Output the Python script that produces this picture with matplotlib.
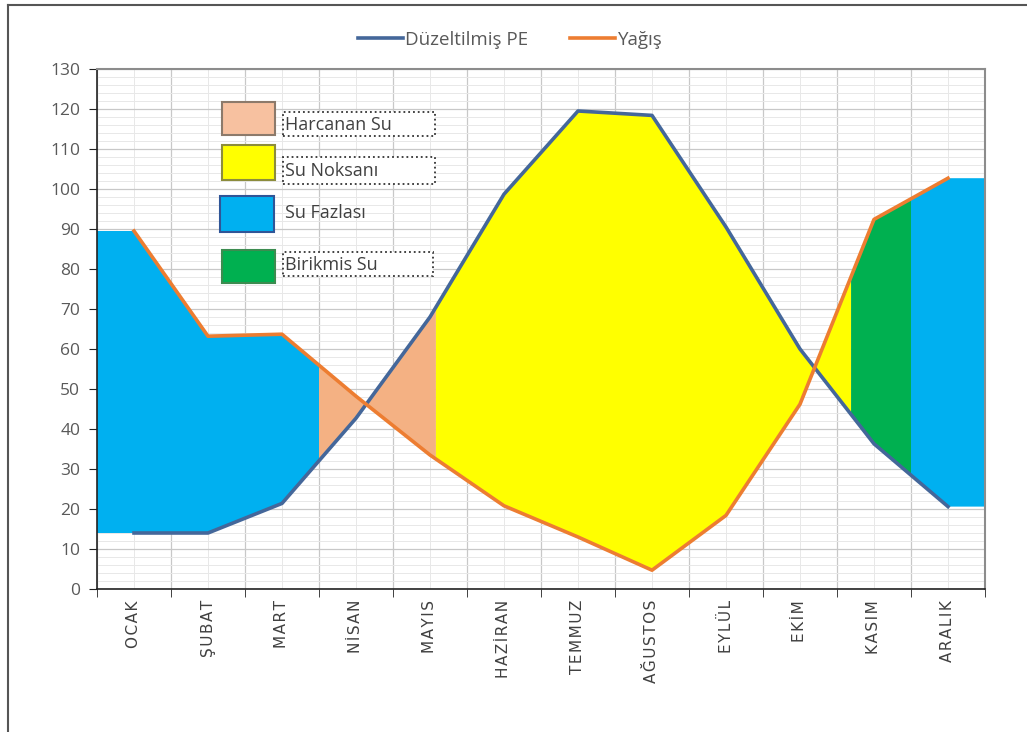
import numpy as np
import matplotlib
matplotlib.use('Agg')
from matplotlib import pyplot as plt
from matplotlib.patches import Rectangle
from matplotlib.lines import Line2D

plt.rcParams['font.family'] = ['Open Sans', 'DejaVu Sans']

months = ['OCAK', 'ŞUBAT', 'MART', 'NİSAN', 'MAYIS', 'HAZİRAN', 'TEMMUZ',
          'AĞUSTOS', 'EYLÜL', 'EKİM', 'KASIM', 'ARALIK']
pe = np.array([14.0, 14.0, 21.4, 42.7, 68.0, 98.7, 119.5, 118.4, 90.5, 60.0, 36.3, 20.6])
yagis = np.array([89.5, 63.2, 63.7, 48.2, 33.5, 20.8, 13.0, 4.7, 18.4, 46.2, 92.4, 102.7])

# shaded periods (start, end) in category units, with colour
periods = [(-0.5, 2.5, '#00B0F0'),
           (2.5, 4.08, '#F4B183'),
           (4.08, 9.69, '#FFFF00'),
           (9.69, 10.5, '#00B050'),
           (10.5, 11.5, '#00B0F0')]

legend_items = ['Harcanan Su', 'Su Noksanı', 'Su Fazlası', 'Birikmis Su']
legend_colors = ['#F7C1A0', '#FFFF00', '#00B0F0', '#00B050']
legend_edges = ['#8C7A6B', '#8C8C3C', '#2F5597', '#3C8C50']

W, H = 1027, 732
fig = plt.figure(figsize=(W / 100, H / 100), dpi=100)


def fx(x):
    return x / W


def fy(y):
    return 1 - y / H


ax = fig.add_axes([fx(97), fy(589), fx(985) - fx(97), fy(69) - fy(589)])
x = np.arange(len(months))


def band(x0, x1):
    inner = x[(x > x0) & (x < x1)]
    xs = np.concatenate([[x0], inner, [x1]])
    top = np.interp(xs, x, yagis)
    bot = np.interp(xs, x, pe)
    return np.concatenate([xs, xs[::-1]]), np.concatenate([top, bot[::-1]])


for x0, x1, col in periods:
    px, py = band(x0, x1)
    ax.fill(px, py, color=col, lw=0, zorder=2)

ax.plot(x, pe, color='#44679A', lw=2.6, zorder=3, solid_joinstyle='round')
ax.plot(x, yagis, color='#ED7D31', lw=2.6, zorder=3, solid_joinstyle='round')

ax.set_xlim(-0.5, 11.5)
ax.set_ylim(0, 130)
ax.set_yticks(np.arange(0, 131, 10))
ax.set_yticks(np.arange(0, 131, 2), minor=True)
ax.set_xticks(x)
ax.set_xticks(np.arange(-0.5, 12, 1), minor=True)
spaced = ['\u200a'.join(m) for m in months]
ax.set_xticklabels(spaced, rotation=90, fontsize=11, color='#404040', va='top',
                   family=['DejaVu Sans'])
ax.tick_params(axis='x', which='major', length=0, pad=8)
ax.tick_params(axis='x', which='minor', length=6, direction='out', color='#222222')
ax.tick_params(axis='y', which='major', length=6, direction='out', color='#222222',
               labelsize=12.5, labelcolor='#595959', pad=6)
ax.tick_params(axis='y', which='minor', length=0)

ax.grid(True, which='major', axis='y', color='#C8C8C8', lw=0.9, zorder=0)
ax.grid(True, which='minor', axis='y', color='#E8E8E8', lw=0.7, zorder=0)
ax.grid(True, which='minor', axis='x', color='#C8C8C8', lw=0.9, zorder=0)
ax.grid(True, which='major', axis='x', color='#E8E8E8', lw=0.7, zorder=0)
ax.set_axisbelow(True)

for s in ['top', 'right']:
    ax.spines[s].set_color('#8C8C8C')
    ax.spines[s].set_linewidth(1.5)
for s in ['left', 'bottom']:
    ax.spines[s].set_color('#222222')
    ax.spines[s].set_linewidth(1.2)

# top legend
handles = [Line2D([], [], color='#44679A', lw=2.6), Line2D([], [], color='#ED7D31', lw=2.6)]
fig.legend(handles, ['Düzeltilmiş PE', 'Yağış'], loc='center', bbox_to_anchor=(fx(510), fy(40)),
           ncol=2, frameon=False, fontsize=13.5, handlelength=2.4, handletextpad=0.15,
           columnspacing=2.2, labelcolor='#595959')

# drawn key inside the plot
boxes = [(222, 102, 53, 33), (222, 145, 53, 35), (220, 196, 54, 36), (222, 250, 53, 33)]
texty = [125, 171, 213, 265]
frames = [(283, 112, 152, 24), (283, 157, 152, 27), None, (283, 252, 150, 24)]
for (bx, by, bw, bh), lab, fc, ec, ty, fr in zip(boxes, legend_items, legend_colors,
                                                 legend_edges, texty, frames):
    fig.add_artist(Rectangle((fx(bx), fy(by + bh)), bw / W, bh / H, facecolor=fc,
                             edgecolor=ec, lw=1.5, zorder=5))
    if fr is not None:
        rx, ry, rw, rh = fr
        fig.add_artist(Rectangle((fx(rx), fy(ry + rh)), rw / W, rh / H, facecolor='white',
                                 edgecolor='#333333', ls=':', lw=1.3, zorder=5))
    fig.text(fx(285), fy(ty), lab, fontsize=13, color='#404040', va='center', ha='left',
             zorder=6)

# outer frame lines
fig.add_artist(Line2D([fx(8), fx(8)], [fy(5), 0], color='#555555', lw=1.5))
fig.add_artist(Line2D([fx(8), 1], [fy(5), fy(5)], color='#555555', lw=1.5))

plt.savefig('out.png', dpi=100)
